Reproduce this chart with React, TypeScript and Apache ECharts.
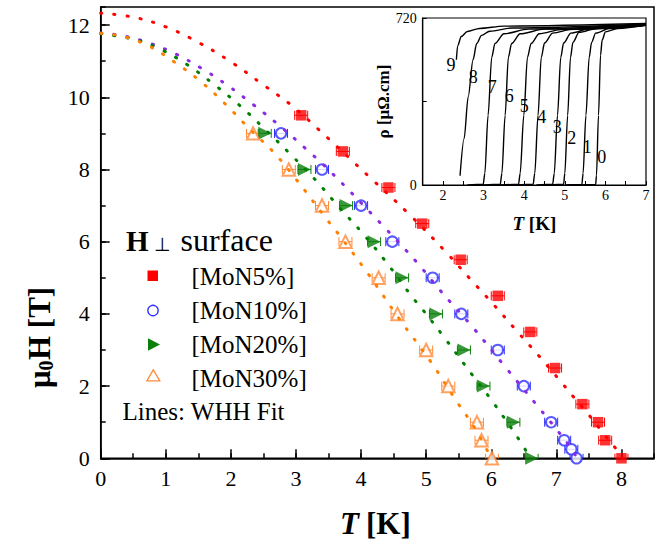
import React, { useEffect, useRef } from 'react';
import * as echarts from 'echarts';

const FONT = "'Liberation Serif', 'Times New Roman', serif";
const font = (size: number, weight = '', style = '') =>
  `${style ? style + ' ' : ''}${weight ? weight + ' ' : ''}${size}px 'Liberation Serif', serif`;

// ---------- main plot: upper critical field vs temperature ----------
const mon5T = [3.08, 3.72, 4.42, 4.94, 5.53, 6.10, 6.60, 6.98, 7.40, 7.64, 7.75, 8.00];
const mon5H = [9.5, 8.5, 7.5, 6.5, 5.5, 4.5, 3.5, 2.5, 1.5, 1.0, 0.5, 0];
const mon10T = [2.77, 3.40, 4.00, 4.48, 5.10, 5.54, 6.10, 6.50, 6.92, 7.12, 7.23, 7.31];
const mon10H = [9, 8, 7, 6, 5, 4, 3, 2, 1, 0.5, 0.25, 0];
const mon20T = [2.52, 3.13, 3.77, 4.20, 4.63, 5.15, 5.58, 5.88, 6.34, 6.62];
const mon20H = [9, 8, 7, 6, 5, 4, 3, 2, 1, 0];
const mon30T = [2.34, 2.89, 3.40, 3.76, 4.27, 4.56, 5.00, 5.34, 5.78, 5.85, 6.01];
const mon30H = [9, 8, 7, 6, 5, 4, 3, 2, 1, 0.5, 0];
const T_ERR = 0.1;

// WHH fits
const fit5 = [[0, 12.33], [0.5, 12.22], [1, 11.95], [1.5, 11.52], [2, 10.98], [2.5, 10.34], [2.95, 9.75], [3.34, 9.12], [4.13, 7.79], [4.75, 6.74], [5.32, 5.68], [5.68, 4.96], [6.04, 4.25], [6.39, 3.53], [6.74, 2.82], [7.08, 2.1], [7.25, 1.73], [7.5, 1.2], [7.74, 0.65], [7.9, 0.3], [8.02, 0]];
const fit10 = [[0, 11.78], [0.35, 11.7], [0.75, 11.5], [1.15, 11.2], [1.55, 10.8], [1.94, 10.34], [2.34, 9.8], [2.73, 9.24], [3.14, 8.59], [3.53, 7.94], [4.31, 6.49], [4.86, 5.42], [5.2, 4.68], [5.73, 3.6], [6.22, 2.52], [6.71, 1.45], [7.03, 0.74], [7.21, 0.32], [7.32, 0]];
const fit20 = [[0, 11.76], [0.54, 11.59], [0.93, 11.32], [1.33, 10.9], [1.73, 10.37], [2.13, 9.78], [2.52, 9.12], [2.91, 8.43], [3.3, 7.71], [3.65, 6.98], [4.02, 6.24], [4.38, 5.45], [4.78, 4.48], [4.95, 4.11], [5.26, 3.39], [5.7, 2.33], [6.0, 1.62], [6.43, 0.51], [6.6, 0]];
const fit30 = [[0, 11.77], [0.33, 11.69], [0.73, 11.43], [1.12, 10.99], [1.52, 10.46], [1.91, 9.82], [2.3, 9.1], [2.67, 8.45], [3.01, 7.71], [3.46, 6.65], [3.64, 6.24], [4.1, 5.13], [4.58, 3.88], [5.08, 2.65], [5.47, 1.57], [5.75, 0.83], [6.0, 0]];

// ---------- inset: resistivity vs temperature for fields 0..9 T ----------
const rho0 = [[5.4, 0], [5.76, 2], [5.78, 40], [5.83, 300], [5.88, 560], [5.92, 625], [6.0, 660], [6.3, 675], [7, 690]];
const rho1 = [[5.0, 0], [5.42, 2], [5.45, 50], [5.52, 300], [5.6, 550], [5.66, 615], [5.76, 655], [6.1, 675], [7, 688]];
const rho2 = [[4.6, 0], [4.97, 3], [5.0, 50], [5.07, 300], [5.14, 550], [5.2, 615], [5.35, 658], [5.8, 675], [7, 690]];
const rho3 = [[4.3, 0], [4.7, 3], [4.74, 50], [4.82, 300], [4.9, 550], [4.97, 612], [5.15, 655], [5.6, 673], [7, 688]];
const rho4 = [[3.8, 0], [4.22, 3], [4.26, 50], [4.34, 300], [4.42, 550], [4.5, 612], [4.7, 655], [5.2, 672], [7, 690]];
const rho5 = [[3.4, 0], [3.86, 3], [3.9, 50], [3.99, 300], [4.08, 550], [4.17, 610], [4.37, 652], [4.9, 670], [7, 690]];
const rho6 = [[3.0, 0], [3.41, 3], [3.45, 50], [3.53, 300], [3.61, 550], [3.69, 610], [3.9, 652], [4.5, 672], [7, 692]];
const rho7 = [[2.6, 0], [2.99, 3], [3.03, 50], [3.11, 300], [3.2, 550], [3.28, 610], [3.5, 652], [4.1, 672], [7, 692]];
const rho8 = [[2.42, 40], [2.52, 200], [2.62, 380], [2.74, 540], [2.83, 610], [2.95, 645], [3.15, 663], [3.7, 677], [7, 694]];
const rho9 = [[2.33, 540], [2.36, 600], [2.45, 640], [2.6, 662], [2.9, 675], [3.5, 685], [7, 696]];
const insetCurves = [rho0, rho1, rho2, rho3, rho4, rho5, rho6, rho7, rho8, rho9];
const fieldLabels = ['0', '1', '2', '3', '4', '5', '6', '7', '8', '9'];

const legendNames = ['[MoN5%]', '[MoN10%]', '[MoN20%]', '[MoN30%]'];

const RED = '#ff0000';
const BLUE = '#3030ff';
const PURPLE = '#8a2be2';
const GREEN = '#0a7f0a';
const GREEN_FIT = '#008000';
const ORANGE = '#ff8a3a';
const ORANGE_FIT = '#ff8000';

const zip = (a: number[], b: number[]) => a.map((v, i) => [v, b[i]]);
const isInt = (v: number) => Math.abs(v - Math.round(v)) < 1e-6;

const errBar = (color: string) => (_p: any, api: any) => {
  const t = api.value(0);
  const h = api.value(1);
  const a = api.coord([t - T_ERR, h]);
  const b = api.coord([t + T_ERR, h]);
  const cap = 4.5;
  const st = { stroke: color, lineWidth: 1 };
  return {
    type: 'group',
    children: [
      { type: 'line', shape: { x1: a[0], y1: a[1], x2: b[0], y2: b[1] }, style: st },
      { type: 'line', shape: { x1: a[0], y1: a[1] - cap, x2: a[0], y2: a[1] + cap }, style: st },
      { type: 'line', shape: { x1: b[0], y1: b[1] - cap, x2: b[0], y2: b[1] + cap }, style: st },
    ],
  };
};

const axisLineStyle = { color: '#000', width: 1.5 };

// pixel positions of the inset field labels (centre of each digit; layout only)
const insetLabelPos = [
  [601.7, 156.7], [587.3, 146.7], [571.7, 138.3], [557.3, 127.3], [541.7, 116.7],
  [524.3, 106], [509.3, 96], [492.3, 86.7], [473.3, 76.7], [451, 65],
];
const legendRowY = [276, 310.5, 344.5, 378.5];

// plain (normal weight) serif text placed through a title component
const plainText = (text: string, left: number, centerY: number, size: number) => ({
  text,
  left,
  top: centerY - size / 2,
  padding: 0,
  itemGap: 0,
  textStyle: {
    fontFamily: FONT,
    fontSize: size,
    fontWeight: 'normal',
    color: '#000',
    lineHeight: size,
  },
});

function buildOption() {
  const mainSets = [
    { T: mon5T, H: mon5H, color: RED, symbol: 'rect', size: 10.5, rotate: 0 },
    { T: mon10T, H: mon10H, color: BLUE, symbol: 'emptyCircle', size: 10.5, rotate: 0 },
    { T: mon20T, H: mon20H, color: GREEN, symbol: 'triangle', size: 13, rotate: -90 },
    { T: mon30T, H: mon30H, color: ORANGE, symbol: 'emptyTriangle', size: 12.5, rotate: 0 },
  ];
  const fits = [
    { d: fit5, c: RED },
    { d: fit10, c: PURPLE },
    { d: fit20, c: GREEN_FIT },
    { d: fit30, c: ORANGE_FIT },
  ];

  const series: any[] = [];
  mainSets.forEach((s) => {
    series.push({ type: 'custom', xAxisIndex: 0, yAxisIndex: 0, renderItem: errBar(s.color), data: zip(s.T, s.H), z: 2, clip: true });
  });
  mainSets.forEach((s) => {
    series.push({
      type: 'scatter', xAxisIndex: 0, yAxisIndex: 0, data: zip(s.T, s.H),
      symbol: s.symbol, symbolSize: s.size, symbolRotate: s.rotate,
      itemStyle: { color: s.color, borderWidth: s.symbol.startsWith('empty') ? 1.3 : 0 }, z: 3,
    });
  });
  fits.forEach((f) => {
    series.push({
      type: 'line', xAxisIndex: 0, yAxisIndex: 0, data: f.d, smooth: 0.4, showSymbol: false,
      lineStyle: { color: f.c, width: 3, type: [1.2, 12], cap: 'round' }, z: 5,
    });
  });
  insetCurves.forEach((c) => {
    series.push({
      type: 'line', xAxisIndex: 2, yAxisIndex: 2, data: c, smooth: 0.3, smoothMonotone: 'x',
      showSymbol: false, lineStyle: { color: '#000', width: 1.4 }, z: 6,
    });
  });

  const txt = (x: number, y: number, text: string, size: number, weight = '', align = 'left', fstyle = '') => ({
    type: 'text', x, y, z: 10,
    style: { text, fill: '#000', font: font(size, weight, fstyle), align, verticalAlign: 'middle' },
  });

  const graphic: any[] = [
    // y axis title: mu, subscript 0, "H [T]" (rotated)
    {
      type: 'group', x: 39, y: 336, rotation: Math.PI / 2, z: 10,
      children: [
        txt(-52, 0, 'μ', 31, 'bold'),
        txt(-34.5, 7, '0', 20, 'bold'),
        txt(-24, 0, 'H [T]', 31, 'bold'),
      ],
    },
    // x axis title
    txt(340, 523, 'T', 31, 'bold', 'left', 'italic'),
    txt(366, 523, '[K]', 31, 'bold'),
    // legend title
    txt(126, 241, 'H', 29, 'bold'),
    // legend markers
    { type: 'rect', z: 10, shape: { x: 147.5, y: 270.5, width: 10.5, height: 10.5 }, style: { fill: RED } },
    { type: 'circle', z: 10, shape: { cx: 153, cy: 310.5, r: 5.2 }, style: { fill: '#fff', stroke: BLUE, lineWidth: 1.3 } },
    { type: 'polygon', z: 10, shape: { points: [[148, 338.3], [148, 350.7], [160, 344.5]] }, style: { fill: GREEN } },
    { type: 'polygon', z: 10, shape: { points: [[146.8, 380.8], [159.8, 380.8], [153.3, 369.8]] }, style: { fill: '#fff', stroke: ORANGE, lineWidth: 1.3 } },
  ];

  const titles: any[] = [
    plainText('⊥', 154, 244, 19),
    plainText('surface', 180.5, 240, 32),
    ...legendNames.map((n, i) => plainText(n, 191.5, legendRowY[i], 25)),
    plainText('Lines: WHH Fit', 122.5, 411.5, 25),
    ...fieldLabels.map((l, i) => plainText(l, insetLabelPos[i][0] - 4.5, insetLabelPos[i][1], 18)),
  ];

  const xAxisDef = (grid: number, min: number, max: number, interval: number, len: number, labels: any) => ({
    gridIndex: grid, type: 'value', min, max, interval, position: 'bottom',
    axisLine: { show: !labels, onZero: false, lineStyle: axisLineStyle },
    axisTick: { inside: true, length: len, lineStyle: axisLineStyle },
    axisLabel: labels || { show: false }, splitLine: { show: false },
  });
  const yAxisDef = (grid: number, min: number, max: number, interval: number, len: number, labels: any) => ({
    gridIndex: grid, type: 'value', min, max, interval, position: 'left',
    axisLine: { show: !labels, onZero: false, lineStyle: axisLineStyle },
    axisTick: { inside: true, length: len, lineStyle: axisLineStyle },
    axisLabel: labels || { show: false }, splitLine: { show: false },
  });

  return {
    animation: false,
    backgroundColor: '#fff',
    title: titles,
    grid: [
      { left: 100.7, right: 13, top: 7, bottom: 90.7, show: true, borderColor: '#000', borderWidth: 1.5, backgroundColor: 'transparent' },
      { left: 422.7, right: 21, top: 18, bottom: 364, show: true, borderColor: '#000', borderWidth: 1.2, backgroundColor: '#fff', z: 4 },
    ],
    xAxis: [
      xAxisDef(0, 0, 8.5, 0.5, 5, null),
      xAxisDef(0, 0, 8.5, 1, 9, {
        formatter: (v: number) => (isInt(v) ? String(Math.round(v)) : ''),
        fontSize: 22, fontFamily: FONT, color: '#000', margin: 9, showMaxLabel: false,
      }),
      {
        gridIndex: 1, type: 'value', min: 1.5, max: 7, interval: 0.5, position: 'bottom', z: 6,
        axisLine: { onZero: false, lineStyle: { color: '#000', width: 1.2 } },
        axisTick: { inside: true, length: 4, lineStyle: { color: '#000', width: 1 } },
        axisLabel: { formatter: (v: number) => (isInt(v) ? String(Math.round(v)) : ''), fontSize: 14, fontFamily: FONT, color: '#000', margin: 3 },
        splitLine: { show: false },
        name: '{i|T}{b| [K]}', nameLocation: 'middle', nameGap: 29,
        nameTextStyle: {
          rich: {
            i: { fontSize: 19, fontWeight: 'bold', fontStyle: 'italic', fontFamily: FONT, color: '#000' },
            b: { fontSize: 19, fontWeight: 'bold', fontFamily: FONT, color: '#000' },
          },
        },
      },
    ],
    yAxis: [
      yAxisDef(0, 0, 12.5, 1, 5, null),
      yAxisDef(0, 0, 12.5, 2, 9, {
        formatter: (v: number) => (isInt(v) ? String(Math.round(v)) : ''),
        fontSize: 22, fontFamily: FONT, color: '#000', margin: 11, showMaxLabel: false,
      }),
      {
        gridIndex: 1, type: 'value', min: 0, max: 720, interval: 360, position: 'left', z: 6,
        axisLine: { onZero: false, lineStyle: { color: '#000', width: 1.2 } },
        axisTick: { inside: true, length: 4, lineStyle: { color: '#000', width: 1 } },
        axisLabel: { formatter: (v: number) => (v === 360 ? '' : String(v)), fontSize: 14, fontFamily: FONT, color: '#000', margin: 6 },
        splitLine: { show: false },
        name: 'ρ [μΩ.cm]', nameLocation: 'middle', nameRotate: 90, nameGap: 28,
        nameTextStyle: { fontSize: 17, fontWeight: 'bold', fontFamily: FONT, color: '#000' },
      },
    ],
    series,
    graphic,
  };
}

export default function App() {
  const ref = useRef<HTMLDivElement>(null);
  useEffect(() => {
    document.body.style.margin = '0';
    const chart = echarts.init(ref.current as HTMLDivElement, null, { renderer: 'svg' });
    chart.setOption(buildOption() as any);
    return () => chart.dispose();
  }, []);
  return <div ref={ref} style={{ width: 667, height: 549 }} />;
}
